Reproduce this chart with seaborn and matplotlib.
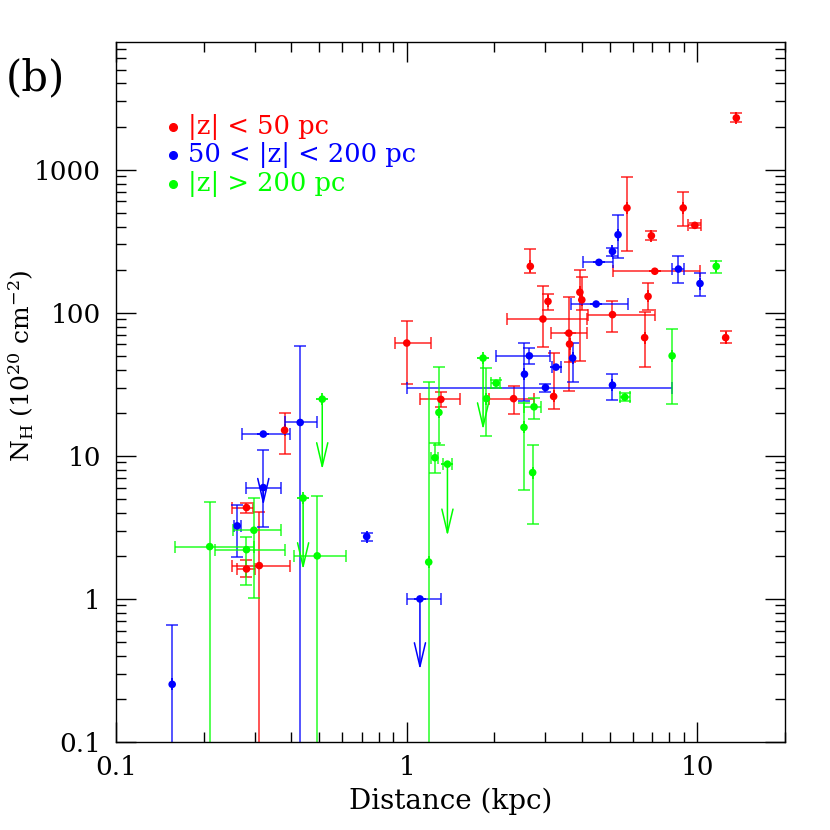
import numpy as np
import pandas as pd
import seaborn as sns
import matplotlib
matplotlib.use("Agg")
import matplotlib.pyplot as plt
from matplotlib.ticker import NullFormatter

# |z| < 50 pc
red_x = [0.38, 0.281, 0.281, 0.311, 1.0, 1.31, 2.33, 2.66, 2.94, 3.06, 3.2, 3.61, 3.63,
         3.94, 4.0, 5.1, 5.72, 6.58, 6.76, 6.94, 7.13, 8.93, 9.79, 12.5, 13.6]
red_y = [15.1, 4.35, 1.62, 1.71, 61.4, 24.8, 25.1, 211, 90.4, 120, 26, 72, 60.4,
         139, 123, 97, 540, 67, 130, 345, 195, 540, 408, 67, 2300]
red_xlo = [0.38, 0.25, 0.26, 0.25, 0.91, 1.11, 1.92, 2.66, 2.22, 3.06, 3.2, 3.14, 3.63,
           3.94, 4.0, 4.2, 5.72, 6.58, 6.76, 6.94, 5.12, 8.93, 9.3, 12.5, 13.6]
red_xhi = [0.38, 0.296, 0.30, 0.396, 1.21, 1.52, 2.75, 2.66, 4.17, 3.06, 3.2, 4.17, 3.63,
           3.94, 4.0, 7.16, 5.72, 6.58, 6.76, 6.94, 10.2, 8.93, 10.3, 12.5, 13.6]
red_ylo = [10.3, 4.0, 1.42, 0.01, 31.7, 22, 19.7, 191, 58, 105, 21.2, 28.2, 45,
           46, 105, 73, 268, 42, 105, 320, 195, 402, 390, 61, 2150]
red_yhi = [19.9, 4.7, 1.87, 4.04, 88, 28, 31, 281, 154, 135, 52, 129, 72,
           198, 179, 121, 889, 102, 161, 372, 195, 693, 425, 74, 2470]

# 50 < |z| < 200 pc
blue_x = [0.156, 0.261, 0.321, 0.321, 0.43, 0.728, 1.11, 2.54, 2.64, 3.0, 3.26, 3.72,
          4.48, 4.58, 5.1, 5.1, 5.33, 8.6, 10.2]
blue_y = [0.253, 3.24, 14.2, 6.0, 17.1, 2.73, 1.0, 37.2, 50, 30, 41.7, 48.2,
          115, 225, 268, 31.2, 351, 202, 160]
blue_xlo = [0.156, 0.255, 0.271, 0.281, 0.381, 0.728, 1.0, 2.54, 2.03, 1.0, 3.15, 3.72,
            3.66, 4.05, 5.1, 5.1, 5.33, 8.2, 10.2]
blue_xhi = [0.156, 0.27, 0.396, 0.37, 0.49, 0.728, 1.31, 2.54, 3.1, 8.2, 3.4, 3.72,
            5.79, 5.13, 5.1, 5.1, 5.33, 9.0, 10.2]
blue_ylo = [0.01, 1.95, 14.2, 3.2, 0.01, 2.55, 1.0, 24, 44, 28, 41.7, 33,
            115, 225, 250, 24.7, 241, 161, 130]
blue_yhi = [0.658, 4.5, 14.2, 11, 59, 2.9, 1.0, 61, 57, 32, 41.7, 61,
            115, 225, 285, 37.4, 479, 251, 191]

# |z| > 200 pc
green_x = [0.21, 0.281, 0.298, 0.44, 0.492, 0.512, 1.19, 1.25, 1.29, 1.38, 1.83, 1.88,
           2.03, 2.53, 2.71, 2.74, 5.62, 8.18, 11.6]
green_y = [2.32, 2.21, 3.02, 5.06, 2.0, 24.9, 1.81, 9.7, 20.1, 8.75, 48.2, 25.1,
           32.2, 15.8, 7.64, 22, 25.7, 50, 211]
green_xlo = [0.16, 0.219, 0.252, 0.44, 0.41, 0.512, 1.19, 1.21, 1.29, 1.33, 1.83, 1.88,
             1.95, 2.53, 2.71, 2.53, 5.4, 8.18, 11.6]
green_xhi = [0.299, 0.38, 0.37, 0.44, 0.62, 0.512, 1.19, 1.28, 1.29, 1.43, 1.83, 1.88,
             2.1, 2.53, 2.71, 2.9, 5.85, 8.18, 11.6]
green_ylo = [0.01, 1.25, 1.01, 5.06, 0.01, 24.9, 0.01, 7.6, 12, 8.75, 48.2, 13.8,
             30, 5.8, 3.32, 18, 24, 23, 191]
green_yhi = [4.74, 2.7, 5.06, 5.06, 5.2, 24.9, 33, 12.3, 42, 8.75, 48.2, 41,
             34, 23.3, 11.9, 25.3, 27.5, 77, 230]

# upper limits: (x, from y, arrow tip y)
blue_lim_x = [0.321, 1.11]
blue_lim_y = [6.0, 1.0]
blue_lim_end = [4.5, 0.32]
green_lim_x = [0.44, 0.512, 1.38, 1.83]
green_lim_y = [5.06, 24.9, 8.75, 48.2]
green_lim_end = [1.6, 8.0, 2.75, 15.2]

labels = ["|z| < 50 pc", "50 < |z| < 200 pc", "|z| > 200 pc"]
colors = ["#ff0000", "#0000ff", "#00ff00"]

sns.set_style("ticks")
plt.rcParams['font.family'] = ['DejaVu Serif']
plt.rcParams['mathtext.fontset'] = 'dejavuserif'
plt.rcParams['text.color'] = 'black'
plt.rcParams['axes.labelcolor'] = 'black'
plt.rcParams['xtick.color'] = 'black'
plt.rcParams['ytick.color'] = 'black'

groups = [
    (red_x, red_y, red_xlo, red_xhi, red_ylo, red_yhi),
    (blue_x, blue_y, blue_xlo, blue_xhi, blue_ylo, blue_yhi),
    (green_x, green_y, green_xlo, green_xhi, green_ylo, green_yhi),
]

frames = []
for lab, g in zip(labels, groups):
    frames.append(pd.DataFrame({'dist': g[0], 'nh': g[1], 'group': lab}))
df = pd.concat(frames, ignore_index=True)

fig = plt.figure(figsize=(8.3, 8.3), dpi=100)
ax = fig.add_axes([0.1398, 0.106, 0.806, 0.8434])
ax.set_xscale('log')
ax.set_yscale('log')

for col, g in zip(colors, groups):
    x, y, xlo, xhi, ylo, yhi = [np.array(a, dtype=float) for a in g]
    xerr = np.vstack([x - xlo, xhi - x])
    yerr = np.vstack([y - ylo, yhi - y])
    ax.errorbar(x, y, xerr=xerr, yerr=yerr, fmt='none', ecolor=col, elinewidth=1.1,
                capsize=4.5, capthick=1.1, alpha=0.85, zorder=2)

sns.scatterplot(data=df, x='dist', y='nh', hue='group', palette=dict(zip(labels, colors)),
                s=30, linewidth=0, legend=False, ax=ax, zorder=3)

for col, lx, ly, le in [(colors[1], blue_lim_x, blue_lim_y, blue_lim_end),
                        (colors[2], green_lim_x, green_lim_y, green_lim_end)]:
    for a, b, c in zip(lx, ly, le):
        ax.annotate('', xy=(a, c), xytext=(a, b),
                    arrowprops=dict(arrowstyle='->,head_length=1.7,head_width=0.4',
                                    color=col, lw=1.1, shrinkA=0, shrinkB=0,
                                    mutation_scale=10))

ax.set_xlim(0.1, 20)
ax.set_ylim(0.1, 7800)
ax.set_xticks([0.1, 1, 10], labels=['0.1', '1', '10'])
ax.set_yticks([0.1, 1, 10, 100, 1000], labels=['0.1', '1', '10', '100', '1000'])
ax.xaxis.set_minor_formatter(NullFormatter())
ax.yaxis.set_minor_formatter(NullFormatter())
ax.tick_params(which='both', direction='in', top=True, right=True, width=1.0, color='black')
ax.tick_params(which='major', length=14.5)
ax.tick_params(which='minor', length=7.5)
ax.tick_params(axis='x', which='major', labelsize=19, pad=9)
ax.tick_params(axis='y', which='major', labelsize=19, pad=11)
for sp in ax.spines.values():
    sp.set_linewidth(1.0)
    sp.set_color('black')

ax.set_xlabel('Distance (kpc)', fontsize=20, labelpad=6)
ax.set_ylabel(r'N$_{\rm H}$ (10$^{20}$ cm$^{-2}$)', fontsize=18, va='center')
ax.yaxis.set_label_coords(-0.142, 0.537)

for i, (lab, col) in enumerate(zip(labels, colors)):
    yy = 0.879 - i * 0.041
    ax.plot([0.085], [yy], 'o', ms=5.5, color=col, transform=ax.transAxes)
    ax.text(0.107, yy, lab, color=col, fontsize=18.5, va='center', transform=ax.transAxes)

fig.text(0.043, 0.906, '(b)', fontsize=30, ha='center', va='center')

fig.savefig('out.png', dpi=100)
